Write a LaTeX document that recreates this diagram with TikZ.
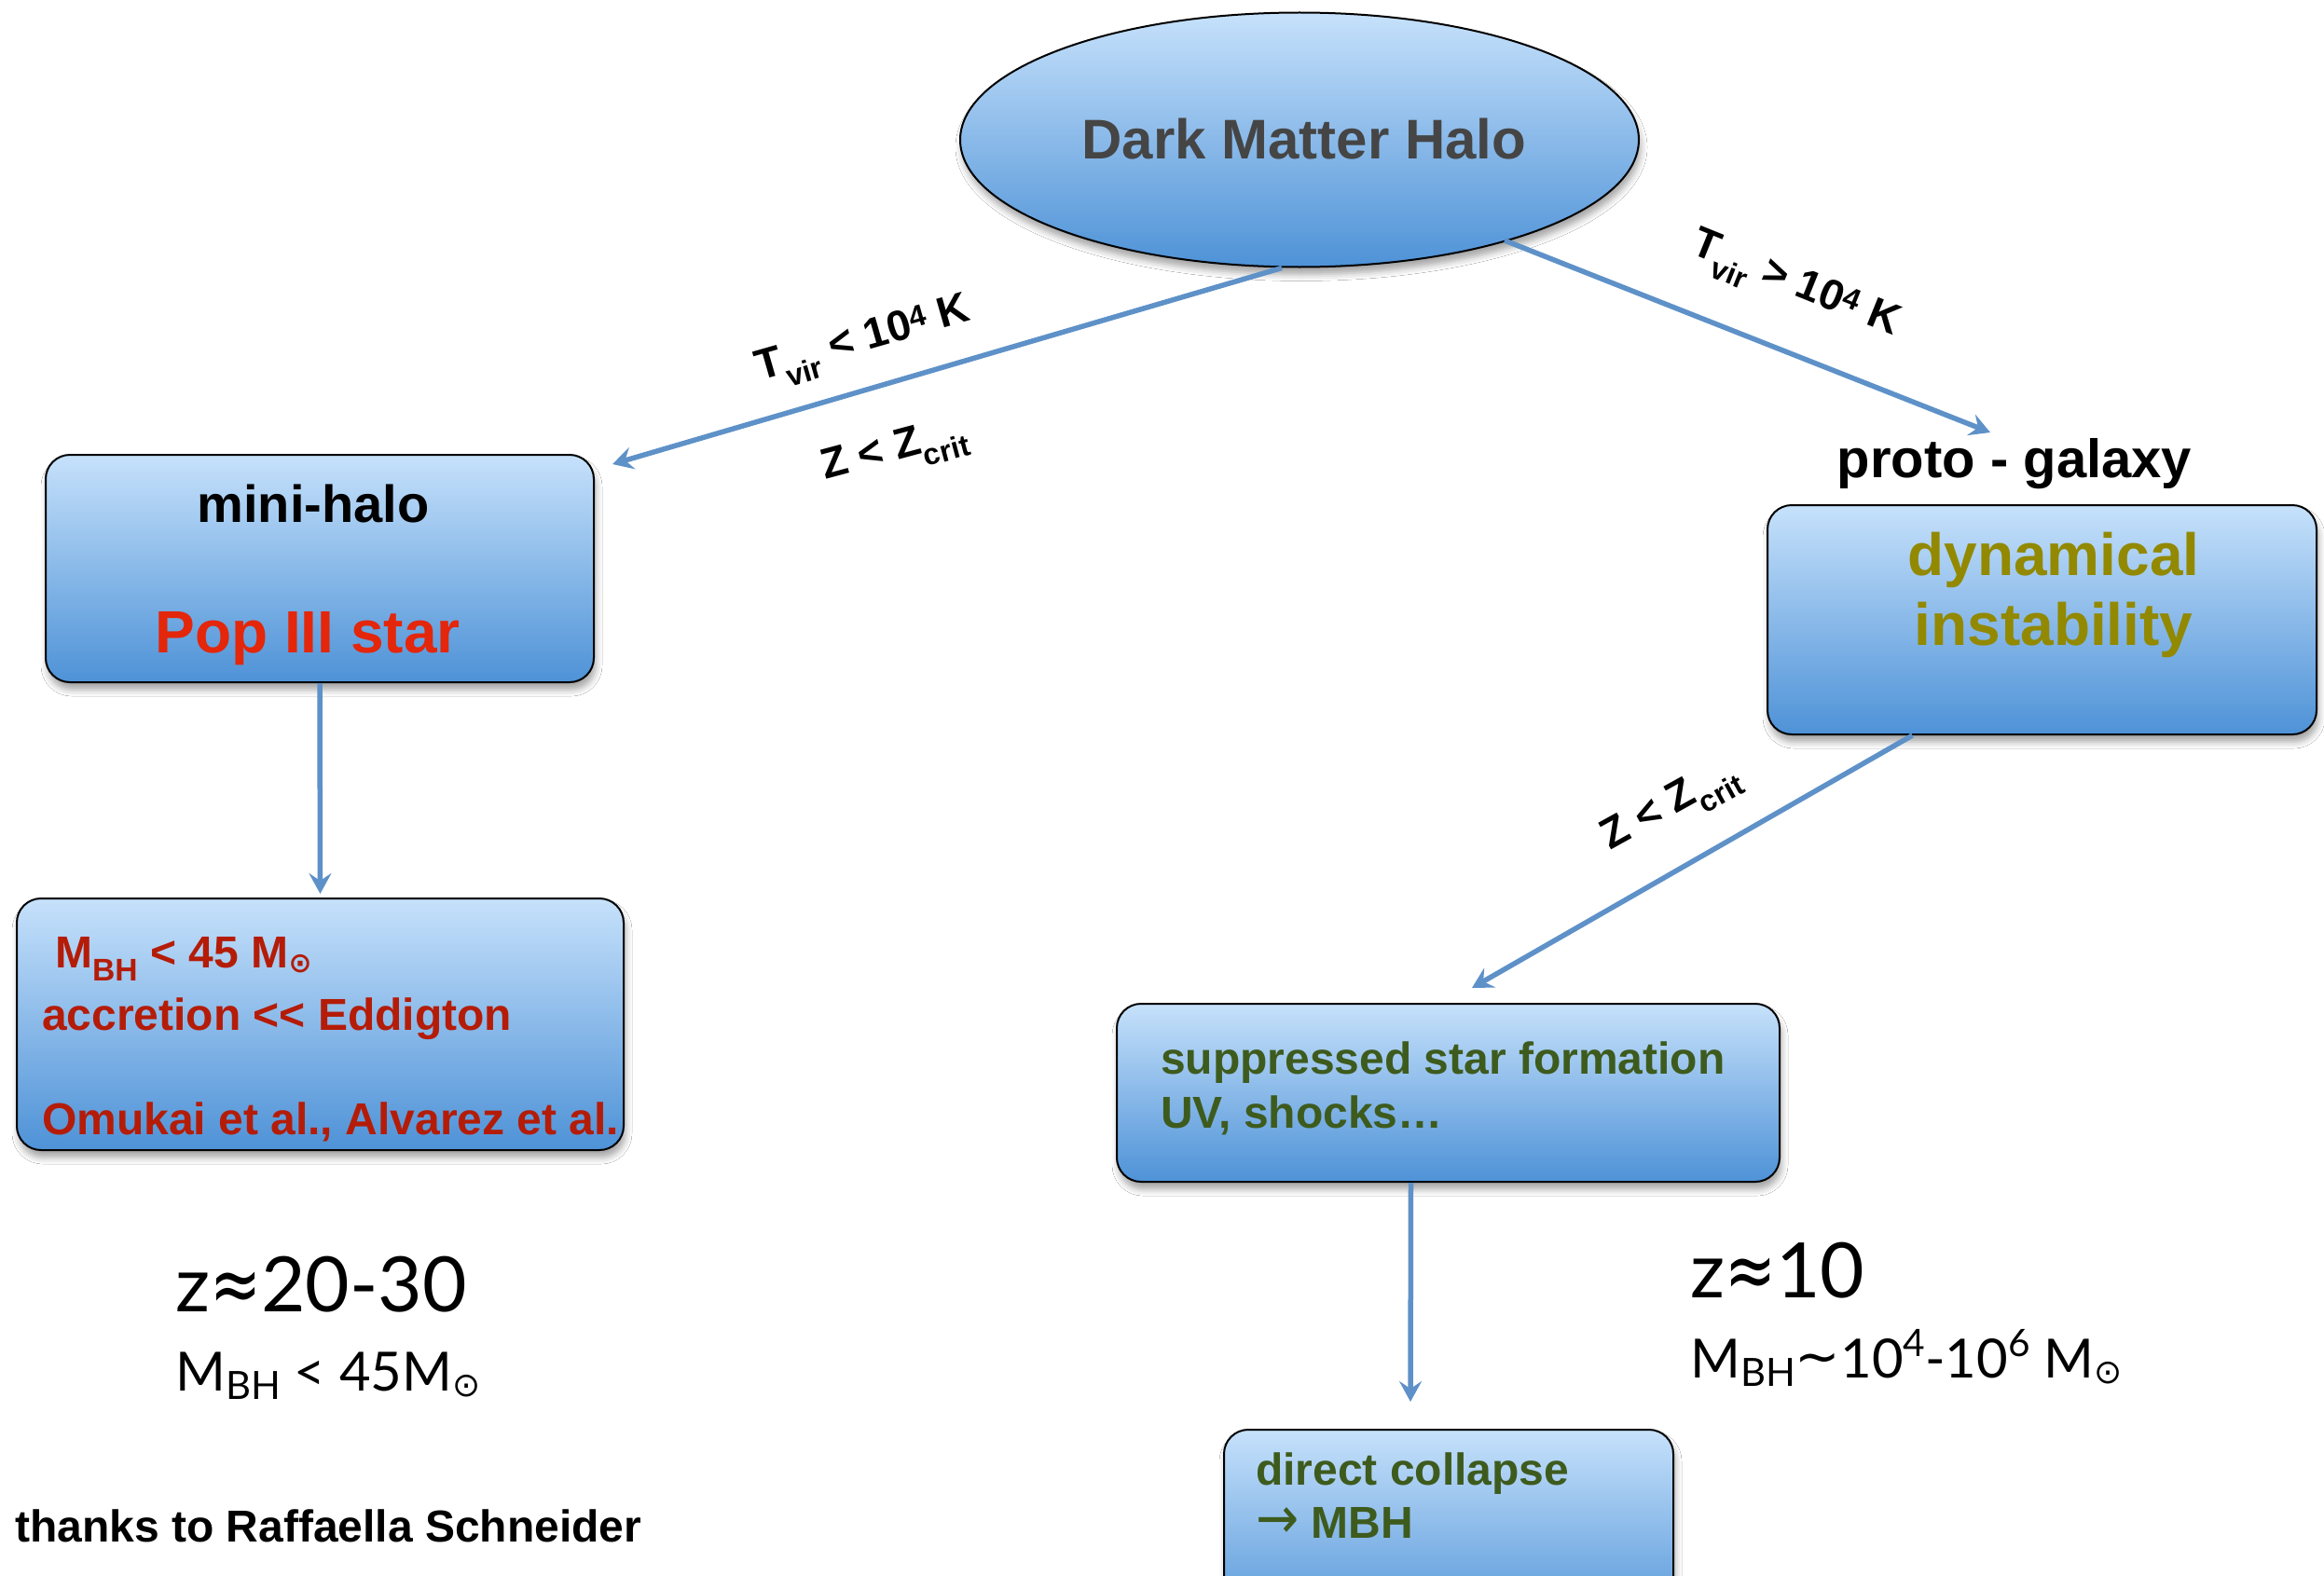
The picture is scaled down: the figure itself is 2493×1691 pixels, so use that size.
\documentclass[tikz,border=0pt]{standalone}
\usepackage{fontspec}
\setmainfont{Liberation Sans}
\newfontfamily\gillfont{Lato}
\newfontfamily\symfont{DejaVu Sans}
\usetikzlibrary{shapes.geometric,arrows.meta,shadows.blur,calc}
\definecolor{topblue}{RGB}{198,225,251}
\definecolor{botblue}{RGB}{78,146,215}
\definecolor{arrowblue}{RGB}{94,145,200}
\definecolor{halotext}{RGB}{69,69,69}
\definecolor{popred}{RGB}{228,38,10}
\definecolor{darkred}{RGB}{180,28,8}
\definecolor{olivetext}{RGB}{146,137,0}
\definecolor{dgreen}{RGB}{62,91,30}
\newcommand{\fsz}[1]{\fontsize{#1}{#1}\selectfont}
\newcommand{\sunsym}{\raisebox{-0.12em}{\symfont\scalebox{0.62}{⊙}}}
\newcommand{\lowsub}[1]{\raisebox{-0.16em}{\scalebox{0.72}{#1}}}
\newcommand{\approxsym}{{\symfont\scalebox{0.8}[1.05]{≈}}}
\begin{document}
\begin{tikzpicture}[x=1pt,y=-1pt,
  bluebox/.style={draw=black, line width=2pt, rounded corners=26pt,
    top color=topblue, bottom color=botblue, inner sep=0pt, anchor=north west,
    blur shadow={shadow xshift=2pt, shadow yshift=-8pt, shadow blur radius=7pt, shadow opacity=35}},
  conn/.style={draw=arrowblue, line width=5.5pt, -{Stealth[length=22pt,width=24pt,inset=8pt]}},
  lbl/.style={font=\bfseries\fsz{46}, inner sep=0pt},
  boxtxt/.style={font=\bfseries\fsz{48}, anchor=base west, inner sep=0pt},
  gilltxt/.style={font=\gillfont, anchor=base west, inner sep=0pt}]
\path[fill=white,use as bounding box] (0,0) rectangle (2493,1691);

% shapes
\node[ellipse, draw=black, line width=2pt, top color=topblue, bottom color=botblue,
  minimum width=728pt, minimum height=273pt, inner sep=0pt,
  blur shadow={shadow xshift=2pt, shadow yshift=-8pt, shadow blur radius=7pt, shadow opacity=35}]
  (halo) at (1394,150) {};
\node[bluebox, minimum width=588pt, minimum height=244pt] (mini) at (48,487) {};
\node[bluebox, minimum width=651pt, minimum height=270pt] (bl) at (17,963) {};
\node[bluebox, minimum width=589pt, minimum height=246pt] (proto) at (1895,541) {};
\node[bluebox, minimum width=711pt, minimum height=191pt] (supp) at (1197,1076) {};
\node[bluebox, minimum width=482pt, minimum height=220pt] (direct) at (1312,1533) {};

% texts
\node[anchor=base, inner sep=0pt, text=halotext, font=\bfseries\fsz{60}] (thalo) at (1399,171) {Dark Matter Halo};
\node[anchor=base, inner sep=0pt, font=\bfseries\fsz{56}] (tmini) at (336,560) {mini-halo};
\node[anchor=base, inner sep=0pt, text=popred, font=\bfseries\fsz{64}] (tpop) at (330,700) {Pop III star};
\node[anchor=base, inner sep=0pt, font=\bfseries\fsz{58}] (tproto) at (2161,512) {proto - galaxy};
\node[anchor=base, inner sep=0pt, text=olivetext, font=\bfseries\fsz{64}] (tdyn) at (2203,617) {dynamical};
\node[anchor=base, inner sep=0pt, text=olivetext, font=\bfseries\fsz{64}] (tinst) at (2203,692) {instability};

\node[boxtxt, text=darkred] (tm1) at (59,1038) {M\textsubscript{BH} < 45 M\sunsym};
\node[boxtxt, text=darkred] (tacc) at (45,1105) {accretion <{}< Eddigton};
\node[boxtxt, text=darkred] (tomu) at (45,1217) {Omukai et al., Alvarez et al.};

\node[boxtxt, text=dgreen] (tsup1) at (1245,1152) {suppressed star formation};
\node[boxtxt, text=dgreen] (tsup2) at (1245,1210) {UV, shocks…};
\node[boxtxt, text=dgreen] (tdir1) at (1347,1593) {direct collapse};
\node[boxtxt, text=dgreen] (tdir2) at (1347,1650) {{\mdseries\symfont\scalebox{1.15}[1.3]{→}} MBH};

\node[boxtxt] (thanks) at (16,1654) {thanks to Raffaella Schneider};

\node[gilltxt, font=\gillfont\fsz{82}] (z1) at (188,1407) {z\approxsym20-30};
\node[gilltxt, font=\gillfont\fsz{58}] (m1) at (188,1492) {M\lowsub{BH} < 45M\sunsym};
\node[gilltxt, font=\gillfont\fsz{82}] (z2) at (1813,1392) {z\approxsym10};
\node[gilltxt, font=\gillfont\fsz{58}] (m2) at (1813,1478) {M\lowsub{BH}{\symfont\raisebox{0.05em}{∼}}10\raisebox{0.38em}{\scalebox{0.7}{4}}-10\raisebox{0.38em}{\scalebox{0.7}{6}} M\sunsym};

% connector labels
\node[lbl, rotate=16] (l1) at (927,368) {T\textsubscript{vir} < 10\textsuperscript{4} K};
\node[lbl, rotate=15] (l2) at (960,486) {Z < Z\textsubscript{crit}};
\node[lbl, rotate=-22] (l3) at (1925,308) {T\textsubscript{vir} > 10\textsuperscript{4} K};
\node[lbl, rotate=29] (l4) at (1793,867) {Z < Z\textsubscript{crit}};

% connectors
\coordinate (a1s) at ($(halo.south)+(-19,0)$);
\coordinate (a1e) at (657,498);
\coordinate (a2s) at (1614,258);
\coordinate (a2e) at (2135,464);
\coordinate (a4s) at ($(proto.south)+(-139,0)$);
\coordinate (a4e) at (1579,1060);
\coordinate (a5s) at ($(supp.south)+(-40,0)$);
\coordinate (a5e) at ($(direct.north)+(-41,-29)$);
\draw[conn] (a1s) -- (a1e);
\draw[conn] (a2s) -- (a2e);
\draw[conn, shorten >=4pt] (mini.south) -- (bl.north);
\draw[conn] (a4s) -- (a4e);
\draw[conn] (a5s) -- (a5e);
\end{tikzpicture}
\end{document}
